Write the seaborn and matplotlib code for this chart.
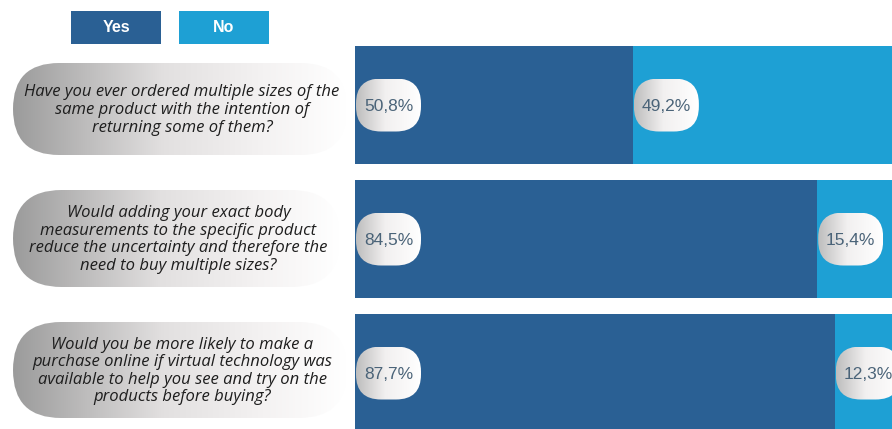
import numpy as np
import pandas as pd
import matplotlib
matplotlib.use("Agg")
import matplotlib.pyplot as plt
from matplotlib.patches import FancyBboxPatch
import seaborn as sns

# ---------------- data ----------------
questions = [
    "Have you ever ordered multiple sizes of the\nsame product with the intention of\nreturning some of them?",
    "Would adding your exact body\nmeasurements to the specific product\nreduce the uncertainty and therefore the\nneed to buy multiple sizes?",
    "Would you be more likely to make a\npurchase online if virtual technology was\navailable to help you see and try on the\nproducts before buying?",
]
yes_values = [50.8, 84.5, 87.7]
no_values = [49.2, 15.4, 12.3]
yes_labels = ["50,8%", "84,5%", "87,7%"]
no_labels = ["49,2%", "15,4%", "12,3%"]
legend_labels = ["Yes", "No"]

YES_C = "#2a6094"
NO_C = "#1ea0d4"

W, H = 892, 429
sns.set_theme(style="white")
fig = plt.figure(figsize=(W / 100, H / 100), dpi=100)

# bar axes in pixel geometry: x 355 -> 902 spans 0..100
ax = fig.add_axes([355 / W, 0, 547 / W, 1])
df = pd.DataFrame({"q": ["q1", "q2", "q3"],
                   "yes": yes_values,
                   "total": [y + n for y, n in zip(yes_values, no_values)]})
sns.barplot(data=df, y="q", x="total", color=NO_C, width=0.88, ax=ax,
            saturation=1, edgecolor="none", orient="h")
sns.barplot(data=df, y="q", x="yes", color=YES_C, width=0.88, ax=ax,
            saturation=1, edgecolor="none", orient="h")
ax.set_xlim(0, 100)
ax.set_ylim((429 - 105) / 134, -105 / 134)
ax.axis("off")

# overlay axes in pixel coordinates
ov = fig.add_axes([0, 0, 1, 1], zorder=5)
ov.set_xlim(0, W)
ov.set_ylim(H, 0)
ov.axis("off")
ov.patch.set_alpha(0)


def to_px(x, y):
    disp = ax.transData.transform((x, y))
    return disp[0], H - disp[1]


def gradient_pill(x0, y0, w, h, radius, cmap_colors, z=6):
    patch = FancyBboxPatch((x0, y0), w, h,
                           boxstyle=f"round,pad=0,rounding_size={radius}",
                           facecolor="none", edgecolor="none", zorder=z)
    ov.add_patch(patch)
    cm = matplotlib.colors.LinearSegmentedColormap.from_list("g", cmap_colors)
    grad = np.linspace(0, 1, 256).reshape(1, -1)
    im = ov.imshow(grad, cmap=cm, extent=(x0, x0 + w, y0 + h, y0),
                   aspect="auto", zorder=z, interpolation="bilinear")
    im.set_clip_path(patch)
    return patch


# question pills
q_boxes = [(13, 63, 334, 92), (13, 190, 327, 97), (13, 322, 334, 96)]
q_cols = [(0.0, "#9b9b9b"), (0.45, "#e2e0e0"), (0.75, "#f4f2f2"), (1.0, "#ffffff")]
for (x0, y0, w, h), q in zip(q_boxes, questions):
    gradient_pill(x0, y0, w, h, h / 2, q_cols)
    ov.text(x0 + w / 2 + 2, y0 + h / 2 + 1, q, ha="center", va="center",
            fontsize=12, style="italic", color="#1e1e1e",
            family="Open Sans", linespacing=1.13, zorder=8)

# percent pills
p_cols = [(0.0, "#bdbdbd"), (0.45, "#f2f0f0"), (1.0, "#ffffff")]
pw, ph = 65, 53
for i in range(3):
    for start, lab in ((0, yes_labels[i]), (yes_values[i], no_labels[i])):
        px, py = to_px(start, i)
        x0 = px + 1
        gradient_pill(x0, py - ph / 2, pw, ph, 25, p_cols, z=6)
        ov.text(x0 + pw / 2, py + 1, lab, ha="center", va="center",
                fontsize=12.5, color="#4a6378", family="Liberation Sans", zorder=8)

# legend boxes
for (x0, lab, c) in ((71, legend_labels[0], YES_C), (179, legend_labels[1], NO_C)):
    ov.add_patch(plt.Rectangle((x0, 11), 90, 33, facecolor=c, edgecolor="none", zorder=6))
    ov.text(x0 + 45, 28, lab, ha="center", va="center", color="white",
            fontsize=11.5, fontweight="bold", family="Liberation Sans", zorder=8)

fig.savefig("out.png", dpi=100)
